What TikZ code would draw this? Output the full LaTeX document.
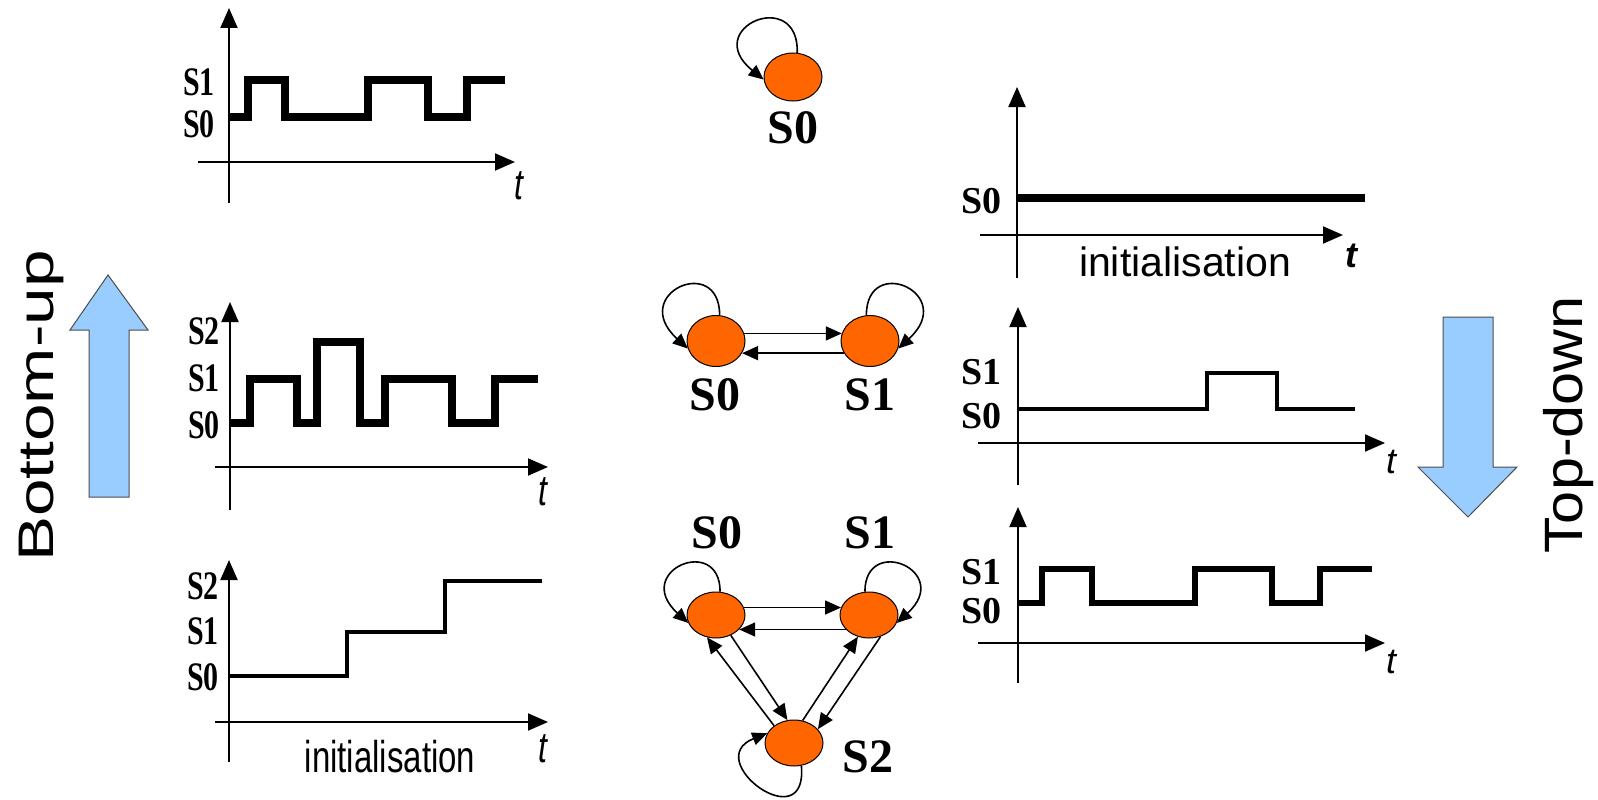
\documentclass[tikz,border=0pt]{standalone}
\usepackage{fontspec}
\usepackage{graphicx}
\setmainfont{Liberation Serif}
\setsansfont{Liberation Sans}
\usetikzlibrary{arrows.meta,shapes.geometric}
\newcommand{\fs}[1]{\fontsize{#1}{#1}\selectfont}
\newcommand{\tallL}[1]{\scalebox{1}[1.35]{#1}}
\definecolor{stateorange}{HTML}{FF6600}
\definecolor{arrowblue}{HTML}{99CCFF}
\tikzset{
  axis/.style={line width=2pt,-{Triangle[length=20pt,width=17pt]}},
  sigthick/.style={line width=8pt,line join=miter},
  sigmid/.style={line width=6.5pt,line join=miter},
  sigthin/.style={line width=4pt,line join=miter},
  state/.style={ellipse,draw=black,line width=1pt,fill=stateorange,minimum width=58pt,minimum height=48pt,inner sep=0pt},
  edge/.style={line width=1.6pt,-{Triangle[length=16pt,width=14pt]}},
  loopedge/.style={line width=1.6pt,-{Triangle[length=15pt,width=13pt]}},
  lablft/.style={anchor=east,font=\bfseries\fs{30},inner sep=0pt},
  labrgt/.style={anchor=east,font=\bfseries\fs{38},inner sep=0pt},
  labmid/.style={font=\bfseries\fs{48},inner sep=0pt},
  tlab/.style={font=\sffamily\itshape\fs{32},inner sep=0pt},
  initlab/.style={font=\sffamily,inner sep=0pt},
  bigarrow/.style={fill=arrowblue,draw=black!70,line width=1pt},
  sidetext/.style={font=\sffamily\fs{50},rotate=90,anchor=base,inner sep=0pt}
}
\begin{document}
\begin{tikzpicture}[x=1pt,y=-1pt]
\useasboundingbox (0,0) rectangle (1598,800);

% ---------------- Left column ----------------
% top-left
\draw[axis] (229,203) -- (229,8);
\draw[axis] (198,162) -- (515,162);
\draw[sigthick] (229,117) -- (248,117) -- (248,80) -- (285,80) -- (285,117) -- (368,117) -- (368,80) -- (428,80) -- (428,117) -- (467,117) -- (467,80) -- (505,80);
\node[lablft] (tl1) at (215,82) {\tallL{S1}};
\node[lablft] (tl0) at (215,124) {\tallL{S0}};
\node[tlab] (tlt) at (519,186) {\tallL{t}};

% middle-left
\draw[axis] (230,510) -- (230,302);
\draw[axis] (215,467) -- (548,467);
\draw[sigthick] (230,423) -- (250,423) -- (250,379) -- (297,379) -- (297,423) -- (317,423) -- (317,342) -- (360,342) -- (360,423) -- (385,423) -- (385,379) -- (452,379) -- (452,423) -- (495,423) -- (495,379) -- (538,379);
\node[lablft] (ml2) at (220,331) {\tallL{S2}};
\node[lablft] (ml1) at (220,378) {\tallL{S1}};
\node[lablft] (ml0) at (220,425) {\tallL{S0}};
\node[tlab] (mlt) at (543,492) {\tallL{t}};

% bottom-left
\draw[axis] (229,762) -- (229,560);
\draw[axis] (215,722) -- (548,722);
\draw[sigthin] (229,676) -- (347,676) -- (347,632) -- (445,632) -- (445,581) -- (542,581);
\node[lablft] (bl2) at (219,586) {\tallL{S2}};
\node[lablft] (bl1) at (219,631) {\tallL{S1}};
\node[lablft] (bl0) at (219,677) {\tallL{S0}};
\node[tlab] (blt) at (543,749) {\tallL{t}};
\node[initlab,font=\sffamily\fs{33}] (blinit) at (390,757) {\tallL{initialisation}};

% ---------------- Right column ----------------
% top-right
\draw[axis] (1017,278) -- (1017,87);
\draw[axis] (980,235) -- (1343,235);
\draw[sigthick] (1017,198) -- (1365,198);
\node[labrgt] (tr0) at (1002,201) {S0};
\node[tlab,font=\sffamily\itshape\bfseries\fs{36}] (trt) at (1351,256) {t};
\node[initlab,font=\sffamily\fs{41}] (trinit) at (1185,262) {initialisation};

% middle-right
\draw[axis] (1018,485) -- (1018,307);
\draw[axis] (978,443) -- (1385,443);
\draw[sigthin] (1018,409) -- (1207,409) -- (1207,373) -- (1277,373) -- (1277,409) -- (1355,409);
\node[labrgt] (mr1) at (1002,372) {S1};
\node[labrgt] (mr0) at (1002,416) {S0};
\node[tlab,font=\sffamily\itshape\fs{36}] (mrt) at (1391,462) {t};

% bottom-right
\draw[axis] (1018,683) -- (1018,507);
\draw[axis] (978,643) -- (1385,643);
\draw[sigmid] (1018,603) -- (1042,603) -- (1042,569) -- (1092,569) -- (1092,603) -- (1195,603) -- (1195,569) -- (1272,569) -- (1272,603) -- (1320,603) -- (1320,569) -- (1372,569);
\node[labrgt] (br1) at (1002,572) {S1};
\node[labrgt] (br0) at (1002,611) {S0};
\node[tlab,font=\sffamily\itshape\fs{36}] (brt) at (1391,662) {t};

% ---------------- Middle: state graphs ----------------
% single state
\node[state] (a0) at (793,77) {};
\node[labmid] (a0l) at (793,128) {S0};
\draw[loopedge] (a0.80) .. controls (799,-14) and (700,28) .. (a0.185);

% two states
\node[state,minimum height=51pt] (b0) at (716,341) {};
\node[state,minimum height=51pt] (b1) at (870,341) {};
\node[labmid] (b0l) at (715,395) {S0};
\node[labmid] (b1l) at (870,395) {S1};
\draw[edge] (b0.15) -- (b1.165);
\draw[edge] (b1.205) -- (b0.335);
\draw[loopedge] (b0.82) .. controls +(0,-62) and +(-60,-55) .. (b0.195);
\draw[loopedge] (b1.98) .. controls +(0,-62) and +(60,-55) .. (b1.-15);

% three states
\node[state,minimum height=46pt] (c0) at (716,615) {};
\node[state,minimum height=46pt] (c1) at (869,615) {};
\node[state,minimum height=46pt] (c2) at (794,743) {};
\node[labmid] (c0l) at (717,533) {S0};
\node[labmid] (c1l) at (870,533) {S1};
\node[labmid] (c2l) at (868,757) {S2};
\draw[edge] (c0.15) -- (c1.165);
\draw[edge] (c1.212) -- (c0.328);
\draw[edge] (c0.-54) -- (c2.106);
\draw[edge] (c2.139) -- (c0.-112);
\draw[edge] (c2.69) -- (c1.243);
\draw[edge] (c1.-62) -- (c2.30);
\draw[loopedge] (c0.80) .. controls +(0,-58) and +(-57,-52) .. (c0.196);
\draw[loopedge] (c1.100) .. controls +(0,-58) and +(57,-52) .. (c1.-16);
\draw[loopedge] (c2.-72) .. controls (808,840) and (700,760) .. (c2.160);

% ---------------- Side arrows ----------------
\draw[bigarrow] (89,497) -- (89,330) -- (70,330) -- (108,275) -- (148,330) -- (129,330) -- (129,497) -- cycle;
\node[sidetext] (bu) at (53,406) {\scalebox{1.35}[1]{Bottom-up}};

\draw[bigarrow] (1443,317) -- (1493,317) -- (1493,467) -- (1517,467) -- (1468,517) -- (1418,467) -- (1443,467) -- cycle;
\node[sidetext,font=\sffamily\fs{54}] (td) at (1582,425) {\scalebox{1.1}[1]{Top-down}};
\end{tikzpicture}
\end{document}
